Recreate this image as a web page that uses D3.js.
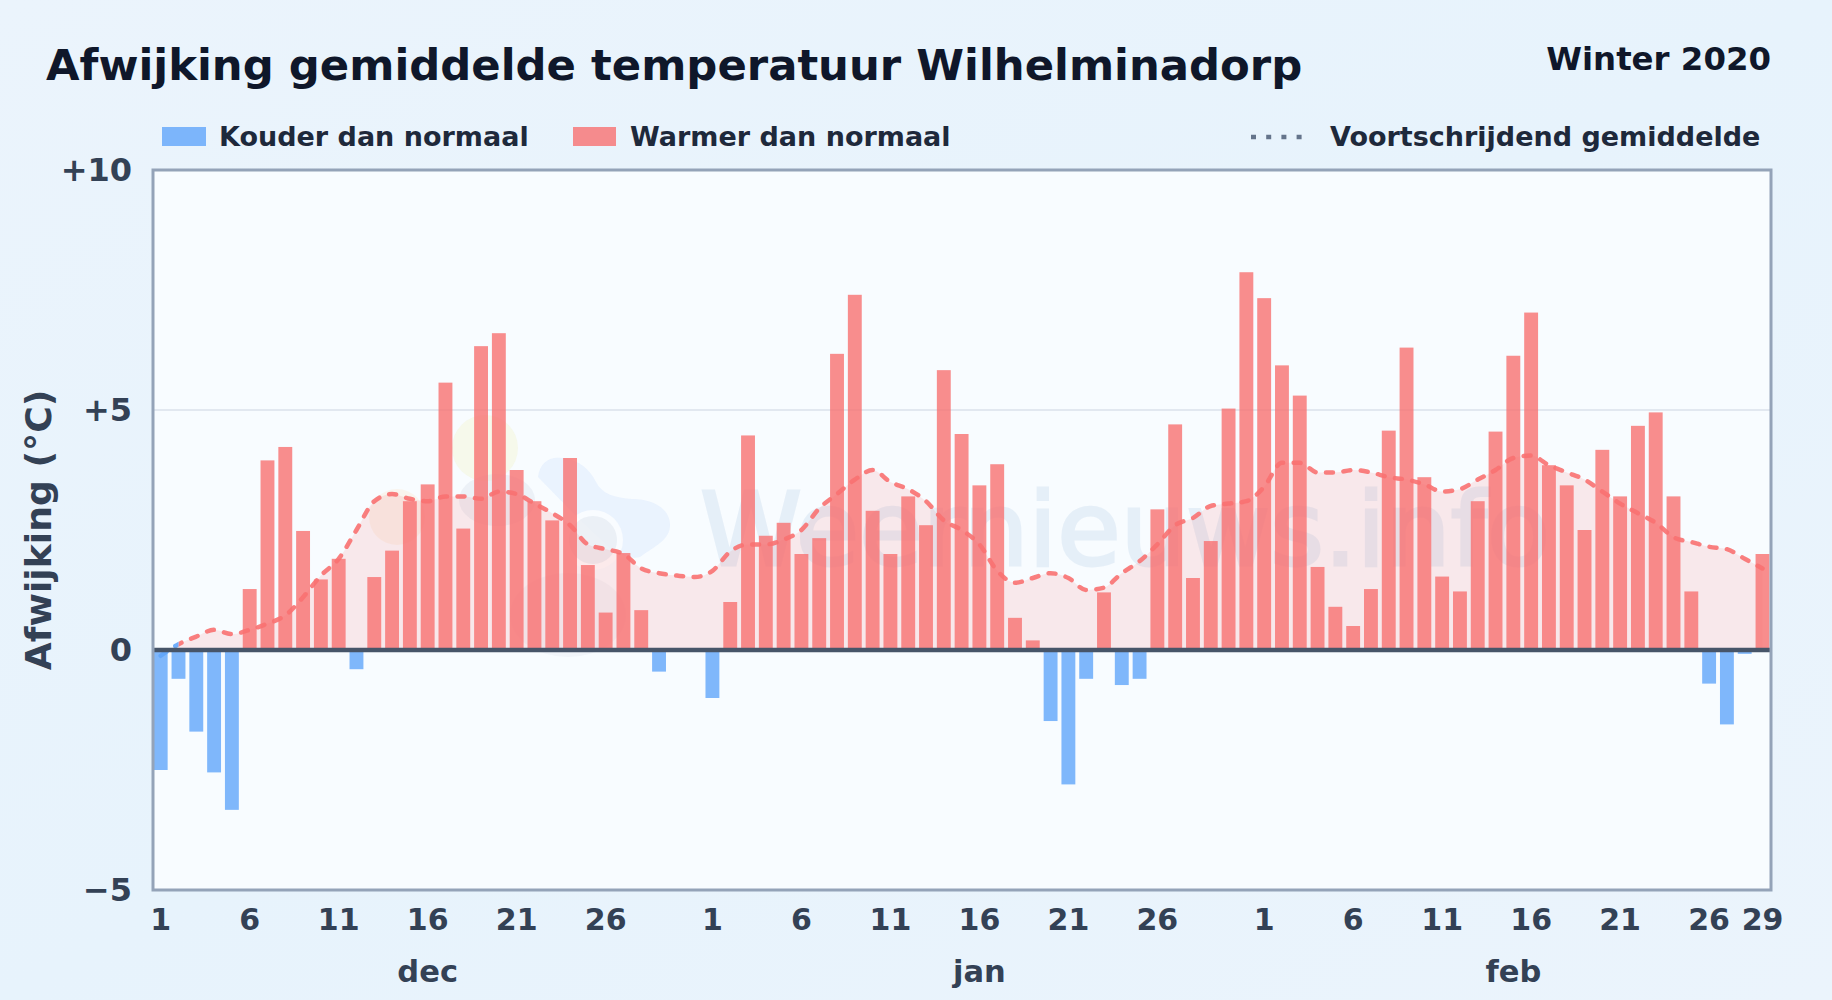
<!DOCTYPE html>
<html><head><meta charset="utf-8">
<script src="https://cdn.jsdelivr.net/npm/d3@7"></script>
<style>
html,body{margin:0;padding:0;width:1832px;height:1000px;overflow:hidden;background:#e9f3fc}
svg{display:block;font-family:"DejaVu Sans",sans-serif;font-weight:700}
</style></head><body><svg id="c" width="1832" height="1000"></svg>
<script>
const chartTitle="Afwijking gemiddelde temperatuur Wilhelminadorp";
const seasonLabel="Winter 2020";
const legendLabels=["Kouder dan normaal","Warmer dan normaal","Voortschrijdend gemiddelde"];
const yAxisTitle="Afwijking (°C)";
const yTicks=[-5,0,5,10];
const months=["dec","jan","feb"];
const monthDays=[31,31,29];
const xTickDays=[[1,6,11,16,21,26],[1,6,11,16,21,26],[1,6,11,16,21,26,29]];
const decAnomaly=[-2.5,-0.6,-1.7,-2.55,-3.33,1.27,3.95,4.23,2.48,1.47,1.9,-0.4,1.52,2.07,3.1,3.45,5.57,2.53,6.33,6.6,3.75,3.1,2.7,4.0,1.77,0.78,2.02,0.83,-0.45,0,0];
const janAnomaly=[-1.0,1.0,4.47,2.38,2.65,2.0,2.33,6.17,7.4,2.9,2.0,3.2,2.6,5.83,4.5,3.43,3.87,0.67,0.2,-1.48,-2.8,-0.6,1.2,-0.73,-0.6,2.93,4.7,1.5,2.27,5.03,7.87];
const febAnomaly=[7.33,5.93,5.3,1.73,0.9,0.5,1.27,4.57,6.3,3.6,1.53,1.22,3.1,4.55,6.13,7.03,3.85,3.43,2.5,4.17,3.2,4.67,4.95,3.2,1.22,-0.7,-1.55,-0.08,2.0];
const decAverage=[-0.12,0.12,0.28,0.42,0.33,0.42,0.55,0.72,1.1,1.55,1.9,2.5,3.1,3.25,3.15,3.1,3.2,3.2,3.15,3.3,3.25,3.05,2.85,2.6,2.2,2.1,2.0,1.7,1.6,1.55,1.52];
const janAverage=[1.65,2.05,2.2,2.2,2.3,2.5,2.95,3.25,3.55,3.75,3.5,3.35,3.1,2.7,2.5,2.2,1.65,1.4,1.5,1.6,1.5,1.25,1.3,1.6,1.85,2.2,2.6,2.75,3.0,3.05,3.1];
const febAverage=[3.4,3.9,3.9,3.7,3.7,3.75,3.7,3.6,3.55,3.45,3.3,3.35,3.55,3.75,4.0,4.05,3.85,3.7,3.55,3.3,3.05,2.85,2.65,2.35,2.25,2.15,2.1,1.9,1.7];
const watermark="Weernieuws.info";

const coldColor="#60a5fa",warmColor="#f87171",inkDark="#0f172a",inkMid="#1e293b",inkAxis="#334155";
const anomaly=[...decAnomaly,...janAnomaly,...febAnomaly];
const average=[...decAverage,...janAverage,...febAverage];
const days=[];months.forEach((m,mi)=>{for(let d=1;d<=monthDays[mi];d++)days.push({key:m+"-"+d,month:m,day:d});});
const rows=days.map((d,i)=>({...d,value:anomaly[i],avg:average[i]}));

const L=153,R=1771,T=170,B=890;
const svg=d3.select("#c");
const defs=svg.append("defs");
const bg=defs.append("linearGradient").attr("id","bg").attr("x1",0).attr("y1",0).attr("x2",1).attr("y2",1);
[[0,"#ebf4fc"],[0.5,"#e7f3fc"],[1,"#ebf4fc"]].forEach(s=>bg.append("stop").attr("offset",s[0]).attr("stop-color",s[1]));
svg.append("rect").attr("width",1832).attr("height",1000).attr("fill","url(#bg)");

const x=d3.scaleBand().domain(days.map(d=>d.key)).range([L-1.2,R+0.4]).paddingInner(0.22).paddingOuter(0.11);
const y=d3.scaleLinear().domain([-5,10]).range([B,T]);
const cx=d=>x(d.key)+x.bandwidth()/2;

svg.append("rect").attr("x",L).attr("y",T).attr("width",R-L).attr("height",B-T).attr("fill","#f8fcff");
defs.append("clipPath").attr("id","plot").append("rect").attr("x",L).attr("y",T).attr("width",R-L).attr("height",B-T);
defs.append("clipPath").attr("id","above").append("rect").attr("x",L).attr("y",T).attr("width",R-L).attr("height",y(0)-T);
defs.append("clipPath").attr("id","below").append("rect").attr("x",L).attr("y",y(0)).attr("width",R-L).attr("height",B-y(0));
const firstWarmX=cx(rows.find(d=>d.avg>0));
defs.append("clipPath").attr("id","lineCold").append("rect").attr("x",L).attr("y",T).attr("width",firstWarmX-L).attr("height",B-T);
defs.append("clipPath").attr("id","lineWarm").append("rect").attr("x",firstWarmX).attr("y",T).attr("width",R-firstWarmX).attr("height",B-T);

// watermark (logo + wordmark)
const wm=svg.append("g").attr("clip-path","url(#plot)");
wm.append("circle").attr("cx",485).attr("cy",448).attr("r",33).attr("fill","#f3f6d8").attr("opacity",.5);
wm.append("circle").attr("cx",397).attr("cy",517).attr("r",28).attr("fill","#fed7aa").attr("opacity",.2);
wm.append("path").attr("d","M538 477C540 462 550 456 562 458C580 460 590 470 596 482C602 494 615 498 632 499C655 499 670 510 670 525C670 540 655 546 640 557C628 560 620 552 612 550L580 520Z").attr("fill","#dbeafe").attr("opacity",.5);
wm.append("ellipse").attr("cx",497).attr("cy",500).attr("rx",38).attr("ry",26).attr("fill","#cbd5e1").attr("opacity",.28);
wm.append("circle").attr("cx",593).attr("cy",540).attr("r",30).attr("fill","#ffffff").attr("opacity",.7);
wm.append("circle").attr("cx",593).attr("cy",540).attr("r",24).attr("fill","#cbd5e1").attr("opacity",.3);
wm.append("ellipse").attr("cx",568).attr("cy",615).attr("rx",58).attr("ry",42).attr("fill","#cbd5e1").attr("opacity",.16);
wm.append("text").text(watermark).attr("x",700).attr("y",565).attr("font-size",102).attr("font-weight",400)
  .attr("textLength",850).attr("lengthAdjust","spacingAndGlyphs").attr("fill","#dbe8f5").attr("stroke","#dbe8f5").attr("stroke-width",3).attr("opacity",.62);

// y grid
svg.append("g").selectAll("line").data(yTicks.filter(t=>t===5)).join("line")
 .attr("x1",L).attr("x2",R).attr("y1",y).attr("y2",y).attr("stroke","#e2e8f0").attr("stroke-width",2);

// moving-average area
const area=d3.area().x(cx).y0(y(0)).y1(d=>y(d.avg)).curve(d3.curveMonotoneX);
const line=d3.line().x(cx).y(d=>y(d.avg)).curve(d3.curveMonotoneX);
svg.append("path").datum(rows).attr("d",area).attr("fill",warmColor).attr("opacity",.14).attr("clip-path","url(#above)");
svg.append("path").datum(rows).attr("d",area).attr("fill",coldColor).attr("opacity",.14).attr("clip-path","url(#below)");

// bars
svg.append("g").attr("clip-path","url(#plot)").selectAll("rect").data(rows.filter(d=>d.value!==0)).join("rect")
 .attr("x",d=>x(d.key)).attr("width",x.bandwidth())
 .attr("y",d=>y(Math.max(0,d.value))).attr("height",d=>Math.abs(y(d.value)-y(0)))
 .attr("fill",d=>d.value<0?coldColor:warmColor).attr("opacity",.8);

// line
[["lineWarm",warmColor],["lineCold",coldColor]].forEach(([c,col])=>{
 svg.append("g").attr("clip-path",`url(#${c})`).append("path").datum(rows).attr("d",line).attr("fill","none")
  .attr("stroke",col).attr("stroke-width",4.5).attr("stroke-dasharray","7 10.5").attr("stroke-linecap","round").attr("opacity",.9);
});

// zero line + frame
svg.append("line").attr("x1",L).attr("x2",R).attr("y1",y(0)).attr("y2",y(0)).attr("stroke","#475569").attr("stroke-width",4.5);
svg.append("rect").attr("x",L).attr("y",T).attr("width",R-L).attr("height",B-T).attr("fill","none").attr("stroke","#94a3b8").attr("stroke-width",3);

// y axis
const yAxis=d3.axisLeft(y).tickValues(yTicks).tickSize(0).tickPadding(21)
  .tickFormat(d=>d>0?"+"+d:d<0?"−"+Math.abs(d):"0");
const ya=svg.append("g").attr("transform",`translate(${L},0)`).call(yAxis);
ya.select(".domain").remove();
ya.selectAll("text").attr("font-size",32).attr("font-family","DejaVu Sans").attr("font-weight",700).attr("fill",inkAxis).attr("dy",0).attr("y",10.5);

// x axis
const tickKeys=[];months.forEach((m,mi)=>xTickDays[mi].forEach(d=>tickKeys.push(m+"-"+d)));
const xAxis=d3.axisBottom(x).tickValues(tickKeys).tickSize(0).tickPadding(0).tickFormat(k=>k.split("-")[1]);
const xa=svg.append("g").attr("transform",`translate(0,${B})`).call(xAxis);
xa.select(".domain").remove();
xa.selectAll("text").attr("font-size",30).attr("font-family","DejaVu Sans").attr("font-weight",700).attr("fill",inkAxis).attr("dy",0).attr("y",39.5);

// month labels
months.forEach((m,mi)=>{
 const a=x(m+"-1")+x.bandwidth()/2;
 const b=x(m+"-"+monthDays[mi])+x.bandwidth()/2;
 svg.append("text").text(m).attr("x",(a+b)/2).attr("y",982).attr("text-anchor","middle").attr("font-size",30.5).attr("fill",inkAxis);
});

// y title
svg.append("text").text(yAxisTitle).attr("transform","translate(51,530) rotate(-90)").attr("text-anchor","middle").attr("font-size",36.2).attr("fill",inkAxis);

// titles
svg.append("text").text(chartTitle).attr("x",46).attr("y",80).attr("font-size",43.35).attr("fill",inkDark);
svg.append("text").text(seasonLabel).attr("x",1771).attr("y",70).attr("text-anchor","end").attr("font-size",32.4).attr("fill",inkDark);

// legend
const lg=svg.append("g");
lg.append("rect").attr("x",162).attr("y",127).attr("width",44).attr("height",19).attr("fill",coldColor).attr("opacity",.8);
lg.append("text").text(legendLabels[0]).attr("x",219).attr("y",146).attr("font-size",27).attr("fill",inkMid);
lg.append("rect").attr("x",573).attr("y",127).attr("width",43).attr("height",19).attr("fill",warmColor).attr("opacity",.8);
lg.append("text").text(legendLabels[1]).attr("x",630).attr("y",146).attr("font-size",27).attr("fill",inkMid);
lg.append("line").attr("x1",1251).attr("x2",1308).attr("y1",137).attr("y2",137).attr("stroke","#64748b").attr("stroke-width",4.5).attr("stroke-dasharray","5 10.2");
lg.append("text").text(legendLabels[2]).attr("x",1330).attr("y",146).attr("font-size",27).attr("fill",inkMid);
</script></body></html>
